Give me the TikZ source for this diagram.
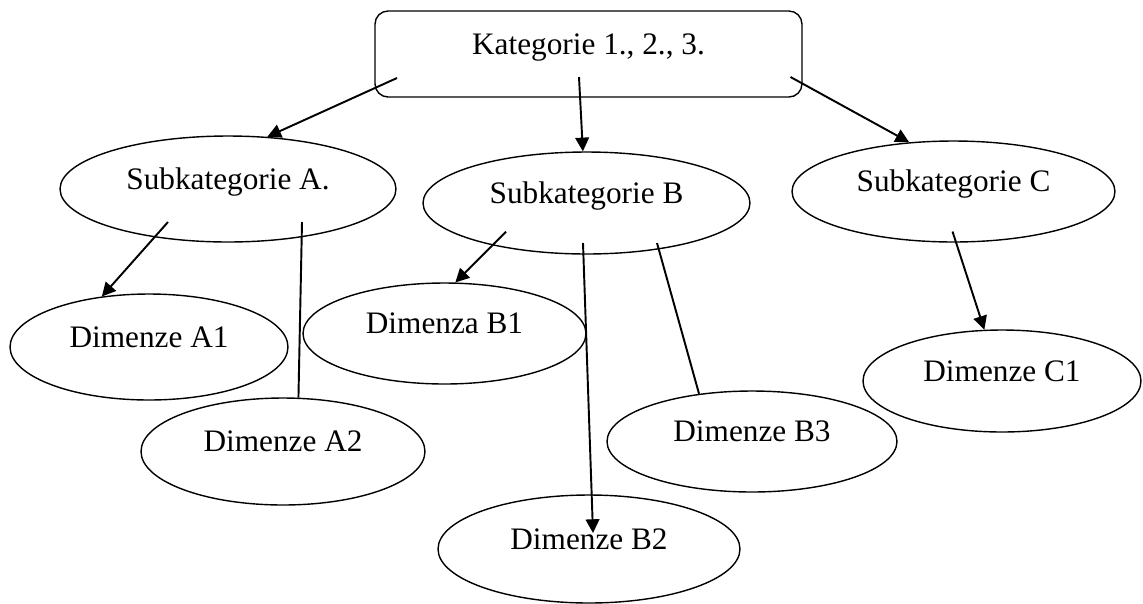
\documentclass[tikz,border=0pt]{standalone}
\usepackage{fontspec}
\setmainfont{Liberation Serif}
\usepackage{tikz}
\usetikzlibrary{shapes, arrows.meta, positioning, calc}

\begin{document}
\begin{tikzpicture}[x=0.02cm, y=-0.02cm,
    every node/.style={font=\fontsize{17.8pt}{20pt}\selectfont, text height=0.3cm, text depth=0.3cm, inner sep=0pt},
    katbox/.style={draw, line width=0.8pt, rounded corners=0.26cm, minimum width=8.54cm, minimum height=1.72cm},
    oval/.style={draw, ellipse, line width=0.8pt},
    conn/.style={line width=1.1pt, -{Triangle[length=7.8pt,width=7.8pt]}},
    noarrow/.style={line width=1.1pt}]
\useasboundingbox (0,0) rectangle (1143,603);

% top category
\node[katbox] (kat) at (588.5,54) {Kategorie 1., 2., 3.};

% subcategories
\node[oval, minimum width=6.72cm, minimum height=2.12cm] (subA) at (228,189) {Subkategorie A.};
\node[oval, minimum width=6.54cm, minimum height=2.04cm] (subB) at (586.5,203) {Subkategorie B};
\node[oval, minimum width=6.46cm, minimum height=2.02cm] (subC) at (953.5,191.5) {Subkategorie C};

% dimensions
\node[oval, minimum width=5.56cm, minimum height=2.12cm] (a1) at (149,347) {Dimenze A1};
\node[oval, minimum width=5.68cm, minimum height=2.14cm] (a2) at (283,451.5) {Dimenze A2};
\node[oval, minimum width=5.66cm, minimum height=2.02cm] (b1) at (444.5,333.5) {Dimenza B1};
\node[oval, minimum width=6.04cm, minimum height=2.16cm] (b2) at (589,549) {Dimenze B2};
\node[oval, minimum width=5.8cm, minimum height=2.02cm] (b3) at (752,441.5) {Dimenze B3};
\node[oval, minimum width=5.56cm, minimum height=2.04cm] (c1) at (1002,381) {Dimenze C1};

% category -> subcategories
\draw[conn] ($(kat.center)+(-191.5,24)$) -- (subA.53);
\draw[conn] ($(kat.center)+(-9.5,23)$) -- (subB.94);
\draw[conn] ($(kat.center)+(202,23)$) -- (subC.132);

% subcategories -> dimensions
\draw[conn] ($(subA.center)+(-60,33)$) -- (a1.133);
\draw[noarrow] ($(subA.center)+(74,33)$) -- (a2.74);
\draw[conn] ($(subB.center)+(-80.5,28.7)$) -- (b1.78);
\draw[conn] ($(subB.center)+(-3.5,40)$) -- ($(b2.center)+(4,-16)$);
\draw[noarrow] ($(subB.center)+(70.5,40)$) -- (b3.138);
\draw[conn] ($(subC.center)+(-1,40)$) -- (c1.109);
\end{tikzpicture}
\end{document}
